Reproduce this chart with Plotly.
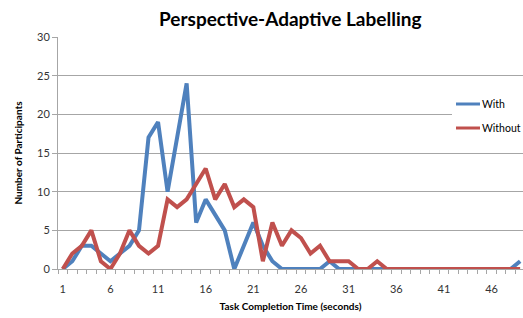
import plotly.graph_objects as go

times = list(range(1, 50))
with_vals = [0, 1, 3, 3, 2, 1, 2, 3, 5, 17, 19, 10, 17, 24, 6, 9, 7, 5, 0, 3,
             6, 3, 1, 0, 0, 0, 0, 0, 1, 0, 0, 0, 0, 0, 0, 0, 0, 0, 0, 0,
             0, 0, 0, 0, 0, 0, 0, 0, 1]
without_vals = [0, 2, 3, 5, 1, 0, 2, 5, 3, 2, 3, 9, 8, 9, 11, 13, 9, 11, 8, 9,
                8, 1, 6, 3, 5, 4, 2, 3, 1, 1, 1, 0, 0, 1, 0, 0, 0, 0, 0, 0,
                0, 0, 0, 0, 0, 0, 0, 0, 0]
x_ticks = [1, 6, 11, 16, 21, 26, 31, 36, 41, 46]
y_ticks = [0, 5, 10, 15, 20, 25, 30]
series_names = ["With", "Without"]
series_colors = ["#4f81bd", "#c0504d"]

FONT = "Lato, 'Open Sans', sans-serif"
GRID = "#a6a6a6"

fig = go.Figure()
for name, vals, color in zip(series_names, [with_vals, without_vals], series_colors):
    fig.add_trace(go.Scatter(x=times, y=vals, mode="lines", name=name,
                             line=dict(color=color, width=4), showlegend=False))

# manual legend (plot area: x 58..523 px, y 37..269 px)
L, R, T, B = 58, 523, 37, 269
px = lambda p: (p - L) / (R - L)
py = lambda p: (B - p) / (B - T)
shapes = [dict(type="rect", xref="paper", yref="paper", x0=px(452), x1=1.0,
               y0=py(142), y1=py(94), fillcolor="white", line=dict(width=0), layer="above")]
annotations = []
for i, (name, color) in enumerate(zip(series_names, series_colors)):
    yy = py(104 + 24 * i)
    shapes.append(dict(type="line", xref="paper", yref="paper", x0=px(456), x1=px(480),
                       y0=yy, y1=yy, line=dict(color=color, width=3), layer="above"))
    annotations.append(dict(text=name, xref="paper", yref="paper", x=px(480), y=yy,
                            xanchor="left", yanchor="middle", showarrow=False,
                            font=dict(family=FONT, size=10.5, color="#000000")))

fig.update_layout(
    width=523, height=318,
    margin=dict(l=58, r=0, t=37, b=49),
    paper_bgcolor="white", plot_bgcolor="white",
    font=dict(family=FONT, size=11, color="#333333"),
    showlegend=False,
    shapes=shapes, annotations=annotations,
    title=dict(text="<b>Perspective-Adaptive Labelling</b>", x=0.555, xanchor="center",
               y=0.94, yanchor="middle", font=dict(family=FONT, size=19, color="#000000")),
    xaxis=dict(range=[0.5, 49.3], tickmode="array", tickvals=x_ticks,
               ticktext=[str(t) for t in x_ticks], automargin=False,
               showgrid=False, zeroline=False, showline=True, linecolor=GRID, linewidth=1,
               ticks="outside", ticklen=4, tickcolor="rgba(0,0,0,0)",
               ticklabelstandoff=6,
               minor=dict(tickmode="linear", tick0=0.5, dtick=1, ticks="outside",
                          ticklen=4, tickcolor=GRID, showgrid=False),
               title=dict(text="<b>Task Completion Time (seconds)</b>", standoff=8,
                          font=dict(family=FONT, size=10, color="#000000"))),
    yaxis=dict(range=[0, 30], tickmode="array", tickvals=y_ticks, automargin=False,
               showgrid=True, gridcolor=GRID, gridwidth=1, zeroline=False,
               showline=True, linecolor=GRID, linewidth=1,
               ticks="outside", ticklen=5, tickcolor=GRID,
               title=dict(text="<b>Number of Participants</b>", standoff=12,
                          font=dict(family=FONT, size=10, color="#000000"))),
)

fig.write_html("out.html", config={"displayModeBar": False},
               post_script="document.body.style.margin='0';")
